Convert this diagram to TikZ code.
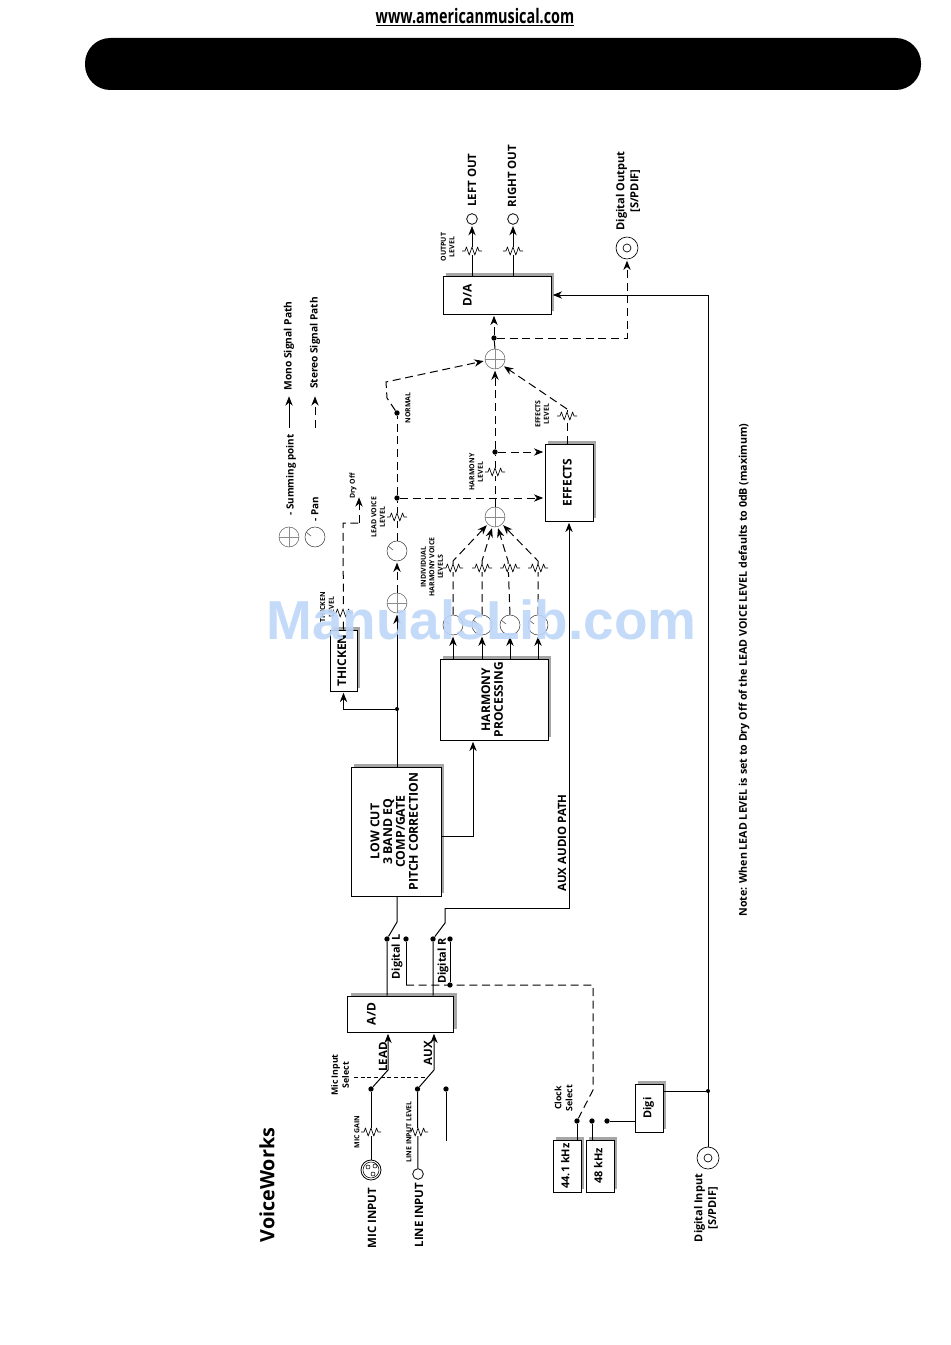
\documentclass[tikz,border=0pt]{standalone}
\usepackage{fontspec}
\setmainfont{Open Sans}
\newfontfamily\wmfont{Liberation Sans}
\usepackage{graphicx}
\usepackage{tikz}
\usetikzlibrary{arrows.meta, positioning, shapes.geometric, calc, shadows}
\newcommand{\vtext}[1]{\rotatebox{90}{\begin{tabular}{@{}c@{}}#1\end{tabular}}}
\begin{document}
\begin{tikzpicture}[
        x=0.75pt, y=-0.75pt,
        block/.style={rectangle, draw=black, fill=white, line width=0.7pt, inner sep=0pt, align=center, font=\bfseries\fontsize{9}{9.6}\selectfont, general shadow={fill=black!35, draw=none, shadow xshift=2.5pt, shadow yshift=2.5pt}},
        mono/.style={line width=0.75pt, draw=black, -{Stealth[length=7pt, width=5.5pt]}, shorten >=1pt},
        stereo/.style={mono, dash pattern=on 6pt off 3.5pt},
        wire/.style={line width=0.75pt, draw=black},
        dashwire/.style={wire, dash pattern=on 6pt off 3.5pt},
        dot/.style={circle, fill=black, inner sep=0pt, minimum size=4pt},
        smalldot/.style={circle, fill=black, inner sep=0pt, minimum size=3pt},
        sumpoint/.style={circle, draw=black!60, fill=white, line width=0.4pt, inner sep=0pt, minimum size=15pt, path picture={\draw[black!45, line width=0.4pt] (path picture bounding box.north) -- (path picture bounding box.south) (path picture bounding box.west) -- (path picture bounding box.east);}},
        panpot/.style={circle, draw=black!75, fill=white, line width=0.4pt, inner sep=0pt, minimum size=15pt, path picture={\draw[black!75, line width=0.4pt] ([shift={(-9,-5)}]path picture bounding box.center) -- ([shift={(-4,-1)}]path picture bounding box.center);}},
        jack/.style={circle, draw=black, line width=0.5pt, fill=white, inner sep=0pt, minimum size=16.5pt, path picture={\draw[black, line width=0.5pt] (path picture bounding box.center) circle[radius=4];}},
        xlr/.style={circle, draw=black, line width=0.6pt, fill=white, inner sep=0pt, minimum size=15pt, path picture={\draw[black, line width=0.4pt] (path picture bounding box.center) circle[radius=8] ([shift={(-3,-3)}]path picture bounding box.center) circle[radius=2] ([shift={(4,-4)}]path picture bounding box.center) circle[radius=2] ([shift={(2,4)}]path picture bounding box.center) circle[radius=2];}},
        outjack/.style={circle, draw=black, line width=0.6pt, fill=white, inner sep=0pt, minimum size=8pt},
        txt/.style={rotate=90, align=center, inner sep=0pt, font=\bfseries\fontsize{6.6}{8.2}\selectfont},
        bigtxt/.style={rotate=90, align=center, inner sep=0pt, font=\bfseries\fontsize{8.6}{9.4}\selectfont},
        tinytxt/.style={rotate=90, align=center, inner sep=0pt, font=\bfseries\fontsize{5.2}{6.4}\selectfont},
        pot/.pic={\fill[white] (-10,-4) rectangle (10,4); \draw[line width=0.5pt, line join=round] (-10,0) -- (-7,0) -- (-5.6,-4) -- (-2.8,4) -- (0,-4) -- (2.8,4) -- (5.6,-4) -- (7,0) -- (10,0);},
    ]
        \useasboundingbox (0,0) rectangle (950,1345);

        % Page header
        \node[font=\bfseries\fontsize{15}{16}\selectfont, inner sep=0pt] (website) at (475,17) {\scalebox{0.72}[1]{\underline{www.americanmusical.com}}};
        \node[rectangle, fill=black, rounded corners=19pt, minimum width=627pt, minimum height=39pt, inner sep=0pt] (topbar) at (503,64) {};

        % Title and note
        \node[rotate=90, inner sep=0pt, font=\bfseries\fontsize{14.8}{17}\selectfont] (title) at (267,1185) {VoiceWorks};
        \node[txt, font=\bfseries\fontsize{8}{9}\selectfont] (note) at (744,670) {Note: When LEAD LEVEL is set to Dry Off of the LEAD VOICE LEVEL defaults to 0dB (maximum)};

        % Legend
        \node[sumpoint] (legsum) at (289,537) {};
        \node[panpot] (legpan) at (315,537) {};
        \node[txt, font=\bfseries\fontsize{7.4}{9}\selectfont] (legsumtxt) at (291,475) {- Summing point};
        \node[txt, font=\bfseries\fontsize{7.4}{9}\selectfont] (legpantxt) at (315,509) {- Pan};
        \coordinate (legmonoa) at (289,428);
        \coordinate (legmonob) at (289,395);
        \coordinate (legstera) at (315,428);
        \coordinate (legsterb) at (315,395);
        \draw[mono] (legmonoa) -- (legmonob);
        \draw[stereo] (legstera) -- (legsterb);
        \node[txt, font=\bfseries\fontsize{7.7}{9}\selectfont] (legmonotxt) at (289,346) {Mono Signal Path};
        \node[txt, font=\bfseries\fontsize{7.6}{9}\selectfont] (legstertxt) at (315,343) {Stereo Signal Path};

        % Blocks
        \node[block, minimum width=80pt, minimum height=27pt] (ad) at (400.5,1014) {\vtext{A/D}\hspace{41pt}};
        \node[block, minimum width=67.5pt, minimum height=96.7pt, font=\bfseries\fontsize{9.2}{9.6}\selectfont] (lowcut) at (396,831.5) {\vtext{LOW CUT\\3 BAND EQ\\COMP/GATE\\PITCH CORRECTION}};
        \node[block, minimum width=20.2pt, minimum height=45.7pt] (thicken) at (343.5,660.5) {\vtext{THICKEN}};
        \node[block, minimum width=81pt, minimum height=60.7pt] (harmony) at (494,699.5) {\vtext{HARMONY\\PROCESSING}};
        \node[block, minimum width=36pt, minimum height=57.7pt] (effects) at (569,482.5) {\vtext{EFFECTS}};
        \node[block, minimum width=81pt, minimum height=28.5pt] (da) at (497,295) {\vtext{D/A}\hspace{42pt}};
        \node[block, minimum width=21pt, minimum height=39pt, font=\bfseries\fontsize{8.2}{8.4}\selectfont] (clockA) at (567,1166) {\vtext{44.1 kHz}};
        \node[block, minimum width=21pt, minimum height=39pt, font=\bfseries\fontsize{8.2}{8.4}\selectfont] (clockB) at (600,1166) {\vtext{48 kHz}};
        \node[block, minimum width=21pt, minimum height=36pt, font=\bfseries\fontsize{8.2}{8.4}\selectfont] (digi) at (649,1108) {\vtext{Digi}};

        % Inputs
        \node[xlr] (micjack) at (371,1170) {};
        \node[outjack] (linejack) at (418,1174) {};
        \node[jack] (diginjack) at (708,1158) {};
        \node[dot] (micsw) at (371,1089) {};
        \node[dot] (linesw) at (417.5,1089) {};
        \node[dot] (auxsw) at (446,1089) {};
        \coordinate (leadbend) at (388,1070);
        \coordinate (auxbend) at (434,1070);
        \coordinate (auxend) at (446,1141);
        \coordinate (micselA) at (354,1077);
        \coordinate (micselB) at (425,1077);
        \draw[wire] (micjack) -- (micsw);
        \draw[wire] (linejack) -- (linesw);
        \draw[wire] (auxsw) -- (auxend);
        \draw[mono] (micsw) -- (leadbend) -- (ad.south -| leadbend);
        \draw[mono] (linesw) -- (auxbend) -- (ad.south -| auxbend);
        \draw[wire, dash pattern=on 3pt off 2pt, line width=0.5pt] (micselA) -- (micselB);
        \pic at (371,1132) {pot};
        \pic at (418,1132) {pot};
        \node[bigtxt] (micinput) at (372,1218) {MIC INPUT};
        \node[bigtxt] (lineinput) at (419,1215) {LINE INPUT};
        \node[bigtxt] (leadtxt) at (383,1057) {LEAD};
        \node[bigtxt] (auxtxt) at (428,1053) {AUX};
        \node[txt] (micseltxt) at (340,1075) {Mic Input\\Select};
        \node[tinytxt] (micgaintxt) at (357,1132) {MIC GAIN};
        \node[tinytxt] (lineleveltxt) at (409,1132) {LINE INPUT LEVEL};

        % A/D outputs and digital switches
        \node[dot] (leftsw) at (387,939) {};
        \node[dot] (leftdig) at (406,939) {};
        \node[dot] (rightsw) at (433,939) {};
        \node[dot] (rightdig) at (450,939) {};
        \node[dot] (clockjoin) at (450,985) {};
        \coordinate (leftbend) at (397,922);
        \coordinate (rightbend) at (445,923);
        \coordinate (auxcorner) at (445,908);
        \coordinate (leftdigend) at (406,985);
        \coordinate (clockcorner) at (593,985);
        \coordinate (clockbend) at (593,1090);
        \coordinate (leadbranch) at (473,836);
        \draw[wire] (ad.north -| leftsw) -- (leftsw) -- (leftbend) -- (lowcut.south -| leftbend);
        \draw[wire] (ad.north -| rightsw) -- (rightsw) -- (rightbend) -- (auxcorner);
        \draw[mono] (auxcorner) -| (effects.south);
        \draw[wire] (leftdig) -- (leftdigend);
        \draw[wire] (rightdig) -- (clockjoin);
        \node[txt, font=\bfseries\fontsize{8.2}{9}\selectfont] (digLtxt) at (397,957) {Digital L};
        \node[txt, font=\bfseries\fontsize{8.2}{9}\selectfont] (digRtxt) at (443,961) {Digital R};
        \node[txt, font=\bfseries\fontsize{8.6}{9}\selectfont] (auxpathtxt) at (562,843) {AUX AUDIO PATH};

        % Clock select
        \node[dot] (clocksw) at (577,1121) {};
        \node[dot] (clockmid) at (592,1121) {};
        \node[dot] (clockdig) at (607,1121) {};
        \node[smalldot] (digijoin) at (708,1091) {};
        \draw[dashwire] (leftdigend) -- (clockcorner) -- (clockbend) -- (clocksw);
        \draw[wire] (clocksw) -- (clockA.north -| clocksw);
        \draw[wire] (clockmid) -- (clockB.north -| clockmid);
        \draw[wire] (clockdig) -- (digi.west |- clockdig);
        \draw[wire] (digi.east |- digijoin) -- (digijoin);
        \draw[mono] (diginjack.north) |- (da.east);
        \node[txt] (clocktxt) at (563.5,1098) {Clock\\Select};
        \node[txt, font=\bfseries\fontsize{8.2}{10.4}\selectfont] (digintxt) at (706,1208) {Digital Input\\{[S/PDIF]}};

        % Lead voice path
        \node[smalldot] (thickjoin) at (397,709) {};
        \node[sumpoint] (leadsum) at (397,603) {};
        \node[panpot] (leadpan) at (397,551) {};
        \node[dot] (leadjoin) at (397,498) {};
        \node[dot] (normalsw) at (397,413) {};
        \coordinate (normalbendA) at (387,398);
        \coordinate (normalbendB) at (386,382);
        \draw[mono] (lowcut.north -| leadsum) -- (leadsum.south);
        \draw[mono] (thickjoin) -| (thicken.south);
        \draw[stereo] (leadsum.north) -- (leadpan.south);
        \draw[dashwire] (leadpan.north) -- (leadjoin);
        \draw[dashwire] (leadjoin) -- (normalsw);
        \draw[stereo] (leadjoin) -- (effects.west |- leadjoin);
        \pic at (397,517) {pot};
        \node[tinytxt] (leadleveltxt) at (378,517) {LEAD VOICE\\LEVEL};
        \node[tinytxt] (normaltxt) at (408,408) {NORMAL};

        % Thicken path
        \coordinate (drycornerA) at (343,523);
        \coordinate (drycornerB) at (359,523);
        \coordinate (drytip) at (359,496);
        \draw[dashwire] (thicken.north) -- (drycornerA) -- (drycornerB);
        \draw[stereo] (drycornerB) -- (drytip);
        \pic at (343,613) {pot};
        \node[tinytxt] (drytxt) at (353,486) {Dry Off};
        \node[tinytxt] (thicktxt) at (327,607) {THICKEN\\LEVEL};

        % Harmony voices
        \node[panpot] (harmpanA) at (453,625) {};
        \node[panpot] (harmpanB) at (482,625) {};
        \node[panpot] (harmpanC) at (510,625) {};
        \node[panpot] (harmpanD) at (538,625) {};
        \node[sumpoint] (harmsum) at (495,517) {};
        \node[dot] (harmjoin) at (495,452) {};
        \coordinate (harmtopA) at (453,561);
        \coordinate (harmtopB) at (482,561);
        \coordinate (harmtopC) at (508,561);
        \coordinate (harmtopD) at (538,561);
        \draw[mono] (harmony.north -| harmpanA) -- (harmpanA.south);
        \draw[mono] (harmony.north -| harmpanB) -- (harmpanB.south);
        \draw[mono] (harmony.north -| harmpanC) -- (harmpanC.south);
        \draw[mono] (harmony.north -| harmpanD) -- (harmpanD.south);
        \draw[stereo] (harmpanA.north) -- (harmtopA) -- (harmsum.225);
        \draw[stereo] (harmpanB.north) -- (harmtopB) -- (harmsum.255);
        \draw[stereo] (harmpanC.north) -- (harmtopC) -- (harmsum.285);
        \draw[stereo] (harmpanD.north) -- (harmtopD) -- (harmsum.315);
        \pic at (453,568) {pot};
        \pic at (482,568) {pot};
        \pic at (510,568) {pot};
        \pic at (538,568) {pot};
        \node[tinytxt] (harmvoicetxt) at (432,567) {INDIVIDUAL\\HARMONY VOICE\\LEVELS};
        \draw[mono] (lowcut.east |- leadbranch) -| (harmony.south -| leadbranch);

        % Output summing
        \node[sumpoint] (mainsum) at (495,359) {};
        \node[dot] (outjoin) at (494,338) {};
        \node[jack] (digoutjack) at (627,248) {};
        \coordinate (fxstart) at (567,409);
        \draw[dashwire] (harmsum.north) -- (harmjoin);
        \draw[stereo] (harmjoin) -- (mainsum.south);
        \draw[stereo] (harmjoin) -- (effects.west |- harmjoin);
        \draw[stereo] (normalsw) -- (normalbendA) -- (normalbendB) -- (mainsum.190);
        \draw[dashwire] (effects.north -| fxstart) -- (fxstart);
        \draw[stereo] (fxstart) -- (mainsum.320);
        \draw[dashwire] (mainsum.north) -- (outjoin);
        \draw[stereo] (outjoin) -- (da.south -| outjoin);
        \draw[stereo] (outjoin) -| (digoutjack.south);
        \pic at (495,472) {pot};
        \pic at (567,416) {pot};
        \node[tinytxt] (harmleveltxt) at (476,472) {HARMONY\\LEVEL};
        \node[tinytxt] (fxleveltxt) at (542,414) {EFFECTS\\LEVEL};

        % Outputs
        \node[outjack] (leftjack) at (472,219) {};
        \node[outjack] (rightjack) at (513,219) {};
        \draw[mono] (da.north -| leftjack) -- (leftjack.south);
        \draw[mono] (da.north -| rightjack) -- (rightjack.south);
        \pic at (472,251) {pot};
        \pic at (513,251) {pot};
        \node[bigtxt] (leftouttxt) at (472,180) {LEFT OUT};
        \node[bigtxt] (rightouttxt) at (512,176) {RIGHT OUT};
        \node[tinytxt] (outleveltxt) at (447.5,247) {OUTPUT\\LEVEL};
        \node[txt, font=\bfseries\fontsize{8.3}{10.4}\selectfont] (digouttxt) at (628,191) {Digital Output\\{[S/PDIF]}};

        % Watermark
        \node[inner sep=0pt, font=\wmfont\bfseries\fontsize{41.2}{44}\selectfont, text={rgb,255:red,190;green,214;blue,248}, text opacity=0.9] (watermark) at (481.5,620) {ManualsLib.com};
    \end{tikzpicture}
\end{document}
